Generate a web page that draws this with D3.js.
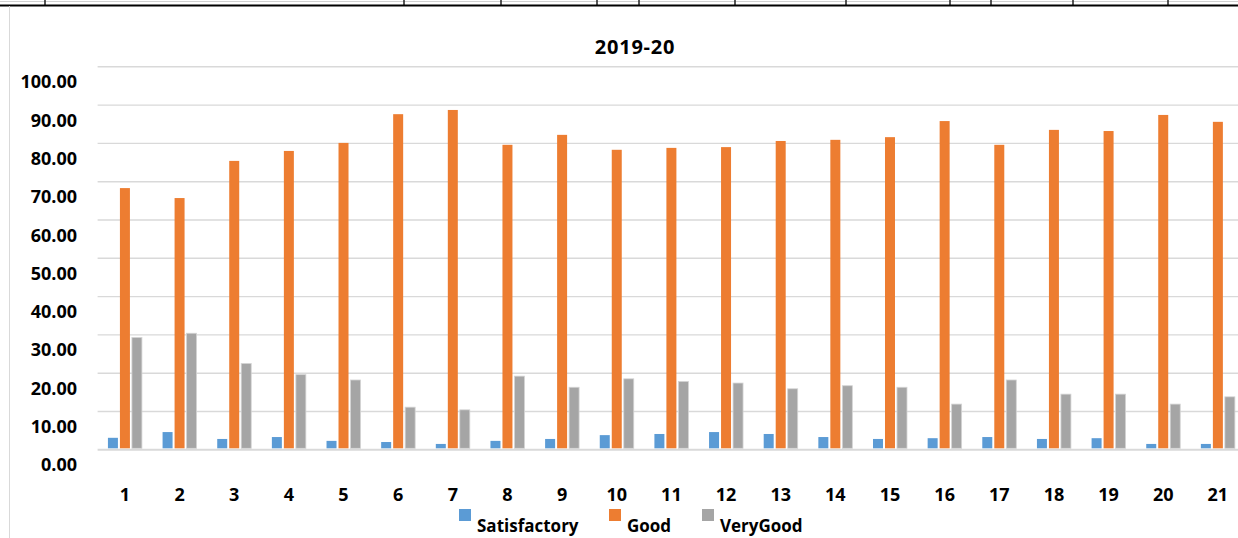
<!DOCTYPE html>
<html>
<head>
<meta charset="utf-8">
<script src="https://cdn.jsdelivr.net/npm/d3@7"></script>
<style>
  html, body { margin: 0; padding: 0; background: #fff; overflow: hidden; }
  text { font-family: "Open Sans", sans-serif; font-weight: 700; fill: #000; }
</style>
</head>
<body>
<div id="chart"></div>
<script>
// data
const title = '2019-20';
const categories = d3.range(1, 22).map(String);
const series = ['Satisfactory', 'Good', 'VeryGood'];
const colors = ['#5b9bd5', '#ed7d31', '#a5a5a5'];
const satisfactory = [3.0, 4.5, 2.7, 3.2, 2.2, 1.9, 1.4, 2.2, 2.7, 3.7, 4.0, 4.5, 4.0, 3.2, 2.7, 2.9, 3.2, 2.7, 2.9, 1.4, 1.4];
const good = [68.2, 65.6, 75.3, 77.9, 80.0, 87.5, 88.6, 79.5, 82.1, 78.2, 78.7, 78.9, 80.5, 80.8, 81.5, 85.7, 79.5, 83.4, 83.1, 87.3, 85.5];
const veryGood = [29.2, 30.3, 22.4, 19.5, 18.1, 11.0, 10.3, 19.1, 16.2, 18.4, 17.7, 17.3, 15.8, 16.6, 16.2, 11.8, 18.1, 14.4, 14.4, 11.8, 13.7];
const yTicks = [0, 10, 20, 30, 40, 50, 60, 70, 80, 90, 100];

const width = 1238, height = 538;
const values = [satisfactory, good, veryGood];
const rows = categories.map((c, i) => ({ cat: c, vals: series.map((s, j) => ({ key: s, value: values[j][i] })) }));

const svg = d3.select('#chart').append('svg')
    .attr('width', width)
    .attr('height', height);

// spreadsheet strip above the chart
const cellEdges = [45, 404, 501, 597, 639, 735, 846, 950, 991, 1073, 1168];
svg.append('line').attr('x1', 0).attr('x2', width).attr('y1', 1.5).attr('y2', 1.5)
    .attr('stroke', '#d0d0d0').attr('stroke-width', 1);
svg.selectAll('.cell-edge').data(cellEdges).join('line')
    .attr('class', 'cell-edge')
    .attr('x1', d => d).attr('x2', d => d).attr('y1', 0).attr('y2', 5)
    .attr('stroke', '#222').attr('stroke-width', 1.5);
svg.append('line').attr('x1', 0).attr('x2', width).attr('y1', 5.5).attr('y2', 5.5)
    .attr('stroke', '#000').attr('stroke-width', 2);
svg.append('line').attr('x1', 9.5).attr('x2', 9.5).attr('y1', 6).attr('y2', height)
    .attr('stroke', '#d9d9d9').attr('stroke-width', 1);

const x = d3.scaleBand()
    .domain(categories)
    .range([97.6, 1245.2])
    .paddingInner(0.378)
    .paddingOuter(0.189);

const xSub = d3.scaleBand()
    .domain(series)
    .range([0, x.bandwidth()])
    .paddingInner(0.167);

const y = d3.scaleLinear()
    .domain([0, 100])
    .range([449.3, 66.3]);

const color = d3.scaleOrdinal().domain(series).range(colors);

// gridlines
const yAxis = d3.axisLeft(y)
    .tickValues(yTicks)
    .tickSize(-(1245.2 - 97.6))
    .tickFormat('');
svg.append('g')
    .attr('transform', 'translate(97.6,0)')
    .call(yAxis)
    .call(g => g.select('.domain').remove())
    .call(g => g.selectAll('.tick line')
        .attr('stroke', '#d9d9d9')
        .attr('stroke-width', d => d === 0 ? 2 : 1.4));

// y labels sit a little under their gridlines, as in the source
svg.append('g').selectAll('text')
    .data(yTicks)
    .join('text')
    .attr('x', 77)
    .attr('y', d => y(d) + 22)
    .attr('text-anchor', 'end')
    .style('font-size', '18px')
    .text(d => d3.format('.2f')(d));

// bars
const groups = svg.append('g').selectAll('g')
    .data(rows)
    .join('g')
    .attr('transform', d => `translate(${x(d.cat)},0)`);

groups.selectAll('rect')
    .data(d => d.vals)
    .join('rect')
    .attr('x', d => xSub(d.key))
    .attr('y', d => y(d.value))
    .attr('width', xSub.bandwidth())
    .attr('height', d => y(0) - y(d.value) - 1)
    .attr('fill', d => color(d.key))
    .attr('stroke', d => d.key === 'VeryGood' ? '#d4d4d4' : 'none')
    .attr('stroke-width', 0.8);

// x labels
const xAxis = d3.axisBottom(x).tickSize(0).tickPadding(0);
svg.append('g')
    .attr('transform', 'translate(0,501)')
    .call(xAxis)
    .call(g => g.select('.domain').remove())
    .call(g => g.selectAll('.tick text')
        .attr('dy', 0)
        .attr('y', 0)
        .style('font-size', '18px')
        .style('font-family', '"Open Sans", sans-serif')
        .attr('fill', '#000'));

// title
svg.append('text')
    .attr('x', 635)
    .attr('y', 53.5)
    .attr('text-anchor', 'middle')
    .style('font-size', '20px')
    .style('letter-spacing', '0.8px')
    .text(title);

// legend (text kept just inside the bottom edge)
const legendX = [459, 609, 702];
const legend = svg.append('g').selectAll('g')
    .data(series)
    .join('g')
    .attr('transform', (d, i) => `translate(${legendX[i]},0)`);
legend.append('rect')
    .attr('x', 0).attr('y', 509)
    .attr('width', 12).attr('height', 12)
    .attr('fill', d => color(d));
legend.append('text')
    .attr('x', 18).attr('y', 532)
    .style('font-size', '17px')
    .text(d => d);
</script>
</body>
</html>
